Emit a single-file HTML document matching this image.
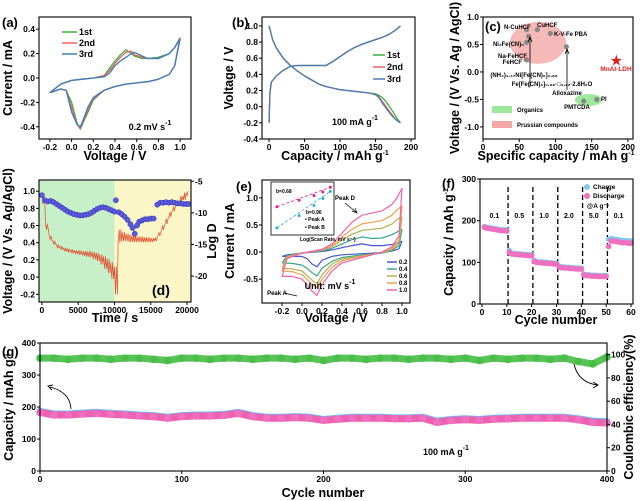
<!DOCTYPE html>
<html><head><meta charset="utf-8">
<style>
body{margin:0;background:#fff}
svg{display:block;font-family:"Liberation Sans",Arial,sans-serif}
.tk{font-size:8.5px;font-weight:bold}
.tt{font-size:12.5px;font-weight:bold}
.pl{font-size:13px;font-weight:bold}
.sm{font-size:6px;font-weight:bold}
.lg{font-size:9px;font-weight:bold}
</style></head>
<body>
<svg id="fig" width="641" height="501" viewBox="0 0 641 501" xmlns="http://www.w3.org/2000/svg"></svg>
<script>
// ---------- data ----------
// (a)
const aUpV=[-0.2,-0.1,0,0.1,0.2,0.3,0.35,0.4,0.45,0.5,0.55,0.58,0.65,0.7,0.8,0.9,0.95,1.0];
const aUp1=[-0.12,-0.05,-0.02,-0.01,0,0.02,0.08,0.14,0.19,0.23,0.2,0.18,0.16,0.16,0.17,0.2,0.25,0.33];
const aUp2=[-0.12,-0.05,-0.02,-0.01,0,0.02,0.06,0.12,0.17,0.21,0.22,0.19,0.17,0.16,0.16,0.2,0.25,0.33];
const aUp3=[-0.12,-0.05,-0.02,-0.01,0,0.01,0.04,0.1,0.14,0.17,0.2,0.21,0.18,0.16,0.16,0.2,0.25,0.32];
const aDnV=[1.0,0.95,0.9,0.8,0.7,0.6,0.5,0.4,0.3,0.2,0.15,0.1,0.08,0.05,0,-0.05,-0.1,-0.2];
const aDn1=[0.33,0.1,0.03,-0.01,-0.03,-0.04,-0.05,-0.07,-0.1,-0.18,-0.28,-0.38,-0.42,-0.37,-0.2,-0.1,-0.09,-0.12];
const aDn2=[0.33,0.1,0.03,-0.01,-0.03,-0.04,-0.05,-0.07,-0.1,-0.17,-0.26,-0.37,-0.41,-0.38,-0.24,-0.1,-0.09,-0.12];
const aDn3=[0.32,0.1,0.03,-0.01,-0.03,-0.04,-0.05,-0.07,-0.1,-0.16,-0.24,-0.36,-0.4,-0.38,-0.28,-0.1,-0.09,-0.12];
// (b)
const bChC=[0,1,3,10,20,30,40,50,60,70,80,90,100,110,120,130,140,150,160,170,180,185];
const bChV=[-0.2,0.15,0.3,0.38,0.45,0.5,0.51,0.51,0.51,0.51,0.51,0.56,0.62,0.68,0.73,0.77,0.8,0.83,0.86,0.9,0.96,1.0];
const bDcC=[0,5,10,20,30,40,50,60,70,80,90,100,110,120,130,140,150,155,160,165,170,175,180,185];
const bDc1=[1.0,0.83,0.73,0.6,0.51,0.44,0.38,0.33,0.28,0.25,0.23,0.21,0.2,0.19,0.18,0.17,0.16,0.14,0.11,0.06,0.0,-0.07,-0.14,-0.2];
const bDc2=[1.0,0.83,0.73,0.6,0.51,0.44,0.38,0.33,0.28,0.25,0.23,0.21,0.2,0.19,0.18,0.17,0.15,0.12,0.06,0.0,-0.06,-0.12,-0.17,-0.2];
const bDc3=[1.0,0.83,0.73,0.6,0.51,0.44,0.38,0.33,0.28,0.25,0.23,0.21,0.2,0.19,0.18,0.17,0.15,0.11,0.04,-0.02,-0.08,-0.13,-0.17,-0.2];
// (c)
const cCap=[60,75,93,60,63,60,115,139,157];
const cVol=[0.77,0.77,0.7,0.54,0.65,0.22,0.46,-0.53,-0.5];
const cStar=[184,0.21];
// (d)
const dT=[0,500,1000,1500,2000,2500,3000,3500,4000,4500,5000,5500,6000,6500,7000,7500,8000,8500,9000,9500,10000,10500,11000,11500,12000,12500,13000,13500,14000,14500,15000,15500,16000,16500,17000,17500,18000,18500,19000,19500,20000];
const dRelax=[0.95,0.62,0.48,0.42,0.38,0.36,0.34,0.33,0.32,0.31,0.31,0.30,0.30,0.30,0.29,0.28,0.26,0.24,0.21,0.17,0.12,0.40,0.42,0.42,0.41,0.41,0.41,0.41,0.41,0.41,0.41,0.42,0.48,0.55,0.62,0.70,0.77,0.83,0.88,0.90,0.95];
const dPulse=[0.85,0.55,0.43,0.38,0.34,0.32,0.30,0.29,0.28,0.27,0.26,0.25,0.24,0.23,0.21,0.19,0.15,0.10,0.05,-0.02,-0.2,0.55,0.52,0.50,0.49,0.48,0.47,0.47,0.46,0.46,0.45,0.46,0.52,0.60,0.68,0.76,0.82,0.88,0.94,0.98,1.0];
const dLt=[0,400,800,1200,1600,2000,2400,2800,3200,3600,4000,4400,4800,5200,5600,6000,6400,6800,7200,7600,8000,8400,8800,9200,9600,10000,10200,10600,11000,11400,11800,12200,12500,12800,13100,13400,13800,14200,14600,15000,15400,15900,16300,16700,17100,17500,17900,18300,18700,19100,19500,19900,20200];
const dLogD=[-7.2,-8.0,-8.2,-8.1,-8.3,-8.6,-8.9,-9.2,-9.5,-9.8,-10.0,-10.2,-10.3,-10.4,-10.4,-10.3,-10.2,-10.0,-9.7,-9.4,-9.2,-9.1,-9.2,-9.4,-9.6,-9.8,-8.0,-9.9,-10.2,-10.6,-11.1,-11.8,-12.4,-13.3,-12.0,-11.4,-11.2,-11.0,-11.0,-10.9,-10.9,-8.7,-8.4,-8.4,-8.3,-8.4,-8.3,-8.4,-8.5,-8.5,-8.6,-8.6,-8.6];
// (e)
const eUpV=[-0.2,-0.15,0,0.2,0.3,0.4,0.5,0.6,0.7,0.8,0.9,0.95,1.0];
const eDnV=[1.0,0.97,0.9,0.8,0.6,0.4,0.3,0.2,0.15,0.1,0.05,0,-0.1,-0.2];
const eRates=['0.2','0.4','0.6','0.8','1.0'];
const eUp=[
 [-0.08,-0.05,-0.02,0.01,0.04,0.08,0.12,0.15,0.12,0.12,0.14,0.17,0.2],
 [-0.2,-0.07,-0.02,0.02,0.07,0.15,0.23,0.28,0.25,0.26,0.32,0.37,0.42],
 [-0.3,-0.08,-0.02,0.03,0.1,0.22,0.33,0.4,0.42,0.44,0.52,0.6,0.65],
 [-0.35,-0.1,-0.02,0.04,0.12,0.28,0.42,0.52,0.55,0.58,0.68,0.78,0.85],
 [-0.45,-0.12,-0.02,0.05,0.15,0.35,0.55,0.68,0.72,0.76,0.88,1.0,1.18]];
const eDn=[
 [0.2,0.06,0.02,-0.01,-0.03,-0.05,-0.08,-0.15,-0.27,-0.22,-0.12,-0.08,-0.08,-0.08],
 [0.42,0.12,0.03,-0.02,-0.05,-0.1,-0.17,-0.3,-0.44,-0.38,-0.3,-0.24,-0.21,-0.2],
 [0.65,0.17,0.05,-0.01,-0.07,-0.13,-0.22,-0.42,-0.58,-0.52,-0.43,-0.35,-0.31,-0.3],
 [0.85,0.22,0.07,-0.01,-0.08,-0.16,-0.28,-0.5,-0.66,-0.6,-0.5,-0.42,-0.36,-0.35],
 [1.18,0.3,0.1,0.0,-0.1,-0.2,-0.35,-0.6,-0.8,-0.72,-0.6,-0.5,-0.45,-0.45]];
const eInX=[-0.72,-0.42,-0.22,-0.1,0];
const eInA=[-0.47,-0.36,-0.28,-0.22,-0.14];
const eInB=[-0.83,-0.62,-0.45,-0.33,-0.21];
// (f)
const fCh=[186,184,183,182,181,180,179,178,178,177,128,122,121,121,120,120,119,119,118,118,105,102,101,101,100,100,99,99,98,98,91,89,89,88,88,87,87,86,86,86,72,70,70,69,69,69,68,68,68,68,155,157,156,155,154,153,152,152,151,151];
const fDc=[184,182,181,180,179,178,177,176,176,175,124,120,119,119,118,118,117,117,116,116,102,100,99,99,98,98,97,97,96,96,89,87,87,86,86,85,85,84,84,84,70,68,68,67,67,67,66,66,66,66,138,151,151,150,149,148,147,147,146,146];
const fRates=['0.1','0.5','1.0','2.0','5.0','0.1'];
// (g)
const gCyc=[0,10,20,30,40,50,60,70,80,90,100,110,120,130,140,150,160,170,180,190,200,210,220,230,240,250,260,270,280,290,300,310,320,330,340,350,360,370,380,390,400];
const gDis=[183,175,175,178,180,177,175,172,170,165,170,172,172,174,180,170,165,165,167,165,158,162,165,165,165,163,163,165,152,158,160,158,162,163,165,165,165,165,160,152,150];
const gChg=[186,178,178,181,183,180,178,175,173,168,173,175,175,177,183,173,168,168,170,168,161,165,168,168,168,166,166,168,156,161,163,161,165,166,168,168,168,168,163,156,154];
const gCE=[97,97,96,97,97,96,97,97,96,95,97,97,96,97,97,96,97,97,96,97,95,97,97,96,97,97,96,97,97,96,97,95,97,96,97,97,96,97,94,92,98];

// ---------- helpers ----------
const svg=document.getElementById('fig');
const NS='http://www.w3.org/2000/svg';
function mk(tag,a,p){const e=document.createElementNS(NS,tag);for(const k in a)e.setAttribute(k,a[k]);(p||svg).appendChild(e);return e;}
function txt(s,a,p){const e=mk('text',a,p);e.textContent=s;return e;}
function sc(d0,d1,r0,r1){return v=>r0+(v-d0)/(d1-d0)*(r1-r0);}
function frame(n,L,T,R,B){const r=mk('rect',{x:L,y:T,width:R-L,height:B-T,fill:'none',stroke:'#000','stroke-width':1.1});

}
function xt(n,sx,B,vals,fmt){vals.forEach(v=>{const l=mk('line',{x1:sx(v),x2:sx(v),y1:B,y2:B+3,stroke:'#000'});


const t=txt(fmt(v),{x:sx(v),y:B+11,'text-anchor':'middle',class:'tk'});

});}
function yt(n,sy,X,vals,fmt,right){vals.forEach(v=>{const l=mk('line',{x1:X,x2:right?X+3:X-3,y1:sy(v),y2:sy(v),stroke:'#000'});


const t=txt(fmt(v),{x:right?X+4:X-4,y:sy(v)+3,'text-anchor':right?'start':'end',class:'tk'});

});}
function lab(n,s,x,y,cls,rot,sup){const t=txt(s,{x:x,y:y,'text-anchor':'middle',class:cls,transform:rot?`rotate(-90 ${x} ${y})`:''});
if(sup){const u=mk('tspan',{'font-size':'7px',dy:-5},t);u.textContent=sup;}

return t;}
function path(n,xs,ys,sx,sy,st,w,extra){let d='';xs.forEach((x,i)=>{d+=(i?'L':'M')+sx(x).toFixed(1)+','+sy(ys[i]).toFixed(1);});
const p=mk('path',Object.assign({d:d,fill:'none',stroke:st,'stroke-width':w,'stroke-linejoin':'round'},extra||{}));

return p;}
const f1=v=>v.toFixed(1), f0=v=>String(v);

// ---------- (a) ----------
{const L=39,T=17,R=191,B=139;const sx=sc(-0.3,1.1,L,R),sy=sc(-0.5,0.5,B,T);
const cols=['#3cb03c','#f06060','#3c7cc0'];const ups=[aUp1,aUp2,aUp3],dns=[aDn1,aDn2,aDn3];
[0,1,2].forEach(i=>{path('a-cycle-'+(i+1)+'-anodic',aUpV,ups[i],sx,sy,cols[i],1.3);path('a-cycle-'+(i+1)+'-cathodic',aDnV,dns[i],sx,sy,cols[i],1.3);});
frame('a',L,T,R,B);xt('a',sx,B,[-0.2,0,0.2,0.4,0.6,0.8,1.0],f1);yt('a',sy,L,[-0.4,-0.2,0,0.2,0.4],f1);
['1st','2nd','3rd'].forEach((s,i)=>{const l=mk('line',{x1:62,x2:77,y1:32+i*11,y2:32+i*11,stroke:cols[i],'stroke-width':1.5});


const t=txt(s,{x:79,y:35+i*11,class:'lg'});

});
lab('a-rate-note','0.2 mV s',150,130,'lg',false,'-1');
lab('a-x-axis-title','Voltage / V',115,160,'tt');lab('a-y-axis-title','Current / mA',12,78,'tt',true);
const p=txt('(a)',{x:2,y:27,class:'pl'});}

// ---------- (b) ----------
{const L=262,T=17,R=415,B=139;const sx=sc(-10,205.6,L,R),sy=sc(-0.4,1.11,B,T);
const cols=['#3cb03c','#f06060','#4a7cb8'];const dcs=[bDc1,bDc2,bDc3];
[0,1,2].forEach(i=>{path('b-cycle-'+(i+1)+'-charge',bChC,bChV,sx,sy,cols[i],1.3);path('b-cycle-'+(i+1)+'-discharge',bDcC,dcs[i],sx,sy,cols[i],1.3);});
frame('b',L,T,R,B);xt('b',sx,B,[0,50,100,150,200],f0);yt('b',sy,L,[-0.4,-0.2,0,0.2,0.4,0.6,0.8,1.0],f1);
['1st','2nd','3rd'].forEach((s,i)=>{const l=mk('line',{x1:373,x2:385,y1:55+i*12,y2:55+i*12,stroke:cols[i],'stroke-width':1.5});


const t=txt(s,{x:387,y:58+i*12,class:'lg'});

});
lab('b-rate-note','100 mA g',355,125,'lg',false,'-1');
lab('b-x-axis-title','Capacity / mAh g',335,160,'tt',false,'-1');lab('b-y-axis-title','Voltage / V',233,78,'tt',true);
const p=txt('(b)',{x:232,y:27,class:'pl'});}

// ---------- (c) ----------
{const L=483,T=17,R=633,B=139;const sx=sc(0,207,L,R),sy=sc(-1.22,1.0,B,T);
const e1=mk('ellipse',{cx:sx(76),cy:sy(0.53),rx:28,ry:21,fill:'#f4a8a8',opacity:0.8});
const e2=mk('ellipse',{cx:sx(145.5),cy:sy(-0.51),rx:13.5,ry:6,fill:'#9ee89e'});
cCap.forEach((c,i)=>{const d=mk('circle',{cx:sx(c),cy:sy(cVol[i]),r:2.6,fill:'#888'});

});
const st=txt('★',{x:sx(cStar[0]),y:sy(cStar[1])+5,'text-anchor':'middle','font-size':'15px',fill:'#e02020'});
const ar1=mk('path',{d:'M530,87L530,38M528,42L530,37L532,42',stroke:'#000',fill:'none','stroke-width':0.8});
const ar2=mk('path',{d:'M567,90L567,50M565,54L567,49L569,54',stroke:'#000',fill:'none','stroke-width':0.8});
const labs=[['N-CuHCF',504,29,'start'],['CuHCF',537,27,'start'],['K-V-Fe PBA',554,36,'start'],['Ni₂Fe(CN)₆',524,46,'end'],['Na-FeHCF',527,58,'end'],['FeHCF',522,64,'end'],['(NH₄)₁.₄₇Ni[Fe(CN)₆]₀.₈₈',524,77,'middle'],['Fe[Fe(CN)₆]₀.₈₈·□₀.₁₂·2.8H₂O',552,86,'middle'],['Alloxazine',567,95,'middle'],['PMTCDA',577,109,'middle'],['PI',601,101,'start']];
labs.forEach(l=>{const t=txt(l[0],{x:l[1],y:l[2],'text-anchor':l[3],class:'sm'});

});
const mn=txt('MnAl-LDH',{x:616,y:71,'text-anchor':'middle','font-size':'6.5px','font-weight':'bold',fill:'#e02020'});
frame('c',L,T,R,B);xt('c',sx,B,[0,50,100,150,200],f0);yt('c',sy,L,[-1,-0.5,0,0.5,1],f1);
const g1=mk('rect',{x:492,y:106,width:20,height:7,fill:'#9ee89e'});
const g2=mk('rect',{x:492,y:121,width:20,height:7,fill:'#f4a8a8'});
const t1=txt('Organics',{x:517,y:112,class:'sm'});
const t2=txt('Prussian compounds',{x:517,y:127,class:'sm'});
const p=txt('(c)',{x:485,y:31,class:'pl'});
lab('c-x-axis-title','Specific capacity / mAh g',556,160,'tt',false,'-1');lab('c-y-axis-title','Voltage / (V Vs. Ag / AgCl)',459,78,'tt',true);}

// ---------- (d) ----------
{const L=39,T=180,R=191,B=302;const sx=sc(-400,20550,L,R),sy=sc(-0.29,1.13,B,T),sy2=sc(-24.1,-4.8,B,T);
const r1=mk('rect',{x:L,y:T,width:sx(10000)-L,height:B-T,fill:'#c8f0c8'});
const r2=mk('rect',{x:sx(10000),y:T,width:R-sx(10000),height:B-T,fill:'#fbf6c8'});
const gx=[],gy=[];dT.forEach((t,i)=>{gx.push(t,t+150);gy.push(dRelax[i],dPulse[i]);if(i<dT.length-1){gx.push(t+250,t+400);gy.push(dRelax[i],dPulse[i]);}});
path('d-gitt-voltage',gx,gy,sx,sy,'#e05030',0.7);
dLt.forEach((t,i)=>{const c=mk('circle',{cx:sx(t),cy:sy2(dLogD[i]),r:2.6,fill:'#5a5ae0',stroke:'#3030a0','stroke-width':0.5});

});
frame('d',L,T,R,B);xt('d',sx,B,[0,5000,10000,15000,20000],f0);yt('d',sy,L,[-0.2,0,0.2,0.4,0.6,0.8,1.0],f1);yt('d-right',sy2,R,[-5,-10,-15,-20],f0,true);
const p=txt('(d)',{x:152,y:295,'font-size':'14px','font-weight':'bold'});
lab('d-x-axis-title','Time / s',115,322,'tt');lab('d-y-axis-title','Voltage / (V Vs. Ag/AgCl)',12,241,'tt',true);lab('d-right-axis-title','Log D',216,241,'tt',true);}

// ---------- (e) ----------
{const L=262,T=180,R=410,B=303;const sx=sc(-0.4,1.08,L,R),sy=sc(-0.94,1.33,B,T);
const cols=['#4a55d0','#3aa88a','#b8b050','#f0a050','#f060b0'];
eRates.forEach((r,i)=>{path('e-cv-'+r+'-anodic',eUpV,eUp[i],sx,sy,cols[i],1.2);path('e-cv-'+r+'-cathodic',eDnV,eDn[i],sx,sy,cols[i],1.2);
const l=mk('line',{x1:387,x2:397,y1:262+i*7,y2:262+i*7,stroke:cols[i],'stroke-width':1.5});


const t=txt(r,{x:399,y:264+i*7,class:'sm'});

});
frame('e',L,T,R,B);xt('e',sx,B,[-0.2,0,0.2,0.4,0.6,0.8,1.0],f1);yt('e',sy,L,[-0.5,0,0.5,1.0],f1);
const IL=271,IT=182,IR=334,IB=235;const ix=sc(-0.8,0.05,IL,IR),iy=sc(-0.95,-0.05,IB,IT);
const ib=mk('rect',{x:IL,y:IT,width:IR-IL,height:IB-IT,fill:'#fff',stroke:'#000','stroke-width':0.8});
path('e-inset-fit-a',[eInX[0],eInX[4]],[eInA[0],eInA[4]],ix,iy,'#e02090',0.8,{'stroke-dasharray':'3,2'});
path('e-inset-fit-b',[eInX[0],eInX[4]],[eInB[0],eInB[4]],ix,iy,'#30a8e0',0.8,{'stroke-dasharray':'3,2'});
eInX.forEach((x,i)=>{const a=mk('circle',{cx:ix(x),cy:iy(eInA[i]),r:1.5,fill:'#e02090'});


const b=mk('circle',{cx:ix(x),cy:iy(eInB[i]),r:1.5,fill:'#30a8e0'});

});
[['b=0.68',276,193],['b=0.96',306,214],['• Peak A',305,221],['• Peak B',305,229],['Log(Scan Rate, mV s⁻¹)',300,241]].forEach(s=>{const t=txt(s[0],{x:s[1],y:s[2],'font-size':'5px','font-weight':'bold'});

});
lab('e-peak-d-label','Peak D',345,200,'sm');lab('e-peak-a-label','Peak A',277,295,'sm');
const ar=mk('path',{d:'M345,203L356,212M352,211L357,213L355,208M284,293L297,296',stroke:'#000',fill:'none','stroke-width':0.7});
lab('e-unit-note','Unit: mV s',330,289,'lg',false,'-1');
const p=txt('(e)',{x:236,y:191,class:'pl'});
lab('e-x-axis-title','Voltage / V',336,322,'tt');lab('e-y-axis-title','Current / mA',234,241,'tt',true);}

// ---------- (f) ----------
{const L=480,T=179,R=633,B=304;const sx=sc(-0.8,60.8,L,R),sy=sc(0,300,B,T);
[10.5,20.5,30.5,40.5,50.5].forEach(c=>{const l=mk('line',{x1:sx(c),x2:sx(c),y1:T+8,y2:B,stroke:'#000','stroke-width':1.3,'stroke-dasharray':'5,3'});

});
fRates.forEach((r,i)=>{const t=txt(r,{x:sx(i*10+5),y:218,'text-anchor':'middle','font-size':'7px','font-weight':'bold'});

});
fCh.forEach((v,i)=>{const c=mk('circle',{cx:sx(i+1),cy:sy(v),r:2.8,fill:'#80c8f0'});

});
fDc.forEach((v,i)=>{const c=mk('circle',{cx:sx(i+1),cy:sy(v),r:2.8,fill:'#f070c0'});

});
frame('f',L,T,R,B);xt('f',sx,B,[0,10,20,30,40,50,60],f0);yt('f',sy,L,[0,100,200,300],f0);
const c1=mk('circle',{cx:587,cy:187,r:3,fill:'#80c8f0'});
const c2=mk('circle',{cx:587,cy:196,r:3,fill:'#f070c0'});
const t1=txt('Charge',{x:593,y:189,'font-size':'6.5px','font-weight':'bold'});
const t2=txt('Discharge',{x:593,y:198,'font-size':'6.5px','font-weight':'bold'});
const t3=txt('@A g⁻¹',{x:598,y:208,'text-anchor':'middle','font-size':'6.5px','font-weight':'bold'});
const p=txt('(f)',{x:442,y:188,class:'pl'});
lab('f-x-axis-title','Cycle number',556,324,'tt');lab('f-y-axis-title','Capacity / mAh g',453,242,'tt',true,'-1');}

// ---------- (g) ----------
{const L=40,T=343,R=607,B=471;const sx=sc(0,400,L,R),sy=sc(0,400,B,T),sy2=sc(0,110,B,T);
path('g-ce-band',gCyc,gCE,sx,sy2,'#3cb83c',7,{'stroke-linecap':'round',opacity:0.85});
gCyc.forEach((c,i)=>{const d=mk('circle',{cx:sx(c),cy:sy2(gCE[i]),r:3.8,fill:'#48c048'});

});
path('g-charge-band',gCyc,gChg,sx,sy,'#70b8f0',7,{'stroke-linecap':'round'});
path('g-discharge-band',gCyc,gDis,sx,sy,'#f060b0',7,{'stroke-linecap':'round'});
gCyc.forEach((c,i)=>{const d=mk('circle',{cx:sx(c),cy:sy(gDis[i]),r:3.8,fill:'#f070c0'});

});
frame('g',L,T,R,B);xt('g',sx,B,[0,100,200,300,400],f0);yt('g',sy,L,[0,100,200,300,400],f0);yt('g-right',sy2,R,[0,20,40,60,80,100],f0,true);
const ar=mk('path',{d:'M71,409Q70,392 50,387M53,385L48,386L52,390M574,364Q578,382 597,385M593,382L598,385L593,388',stroke:'#000',fill:'none','stroke-width':0.9});
lab('g-rate-note','100 mA g',446,455,'lg',false,'-1');
const p=txt('(g)',{x:2,y:356,class:'pl'});
lab('g-x-axis-title','Cycle number',323,497,'tt');lab('g-y-axis-title','Capacity / mAh g',13,407,'tt',true,'-1');lab('g-right-axis-title','Coulombic efficiency(%)',633,407,'tt',true);}
</script>
</body></html>
